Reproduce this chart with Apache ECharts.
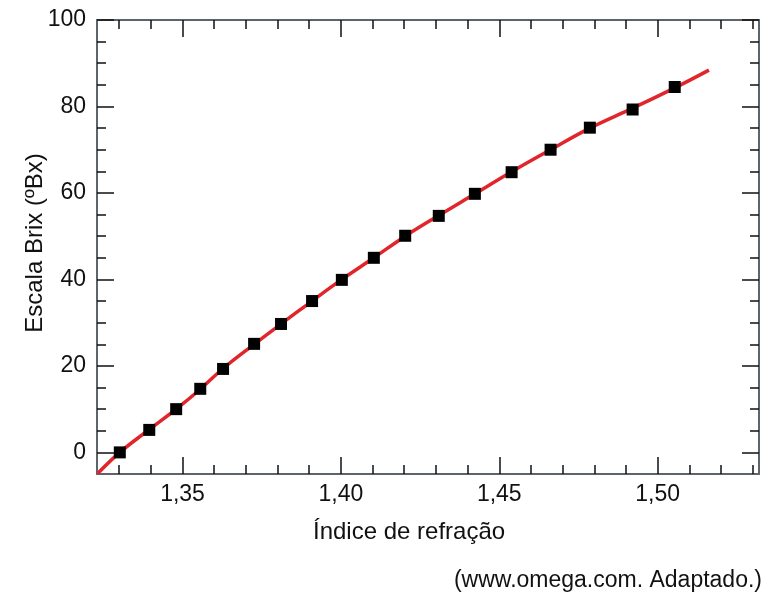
<!DOCTYPE html>
<html lang="pt">
<head>
    <meta charset="UTF-8">
    <title>Escala Brix x Índice de refração</title>
    <script src="https://cdn.jsdelivr.net/npm/echarts@6.0.0/dist/echarts.min.js"></script>
    <style>
        html, body {
            margin: 0;
            padding: 0;
            background: #fff;
        }
        #chart {
            width: 782px;
            height: 600px;
        }
    </style>
</head>
<body>
<div id="chart"></div>
<script>
    // pontos medidos (quadrados pretos)
    var pointX = [1.3302, 1.3395, 1.3480, 1.3556, 1.3628, 1.3726, 1.3811, 1.3909, 1.4003,
        1.4104, 1.4203, 1.4309, 1.4423, 1.4539, 1.4662, 1.4786, 1.4921, 1.5054];
    var pointY = [0, 5.2, 10.0, 14.7, 19.3, 25.1, 29.7, 35.0, 39.9,
        45.0, 50.1, 54.7, 59.8, 64.8, 70.0, 75.1, 79.3, 84.5];

    // curva ajustada (linha vermelha)
    var curveX = [1.3232, 1.3302, 1.3395, 1.3480, 1.3556, 1.3628, 1.3726, 1.3811, 1.3909, 1.4003,
        1.4104, 1.4203, 1.4309, 1.4423, 1.4539, 1.4662, 1.4786, 1.4921, 1.5054, 1.5162];
    var curveY = [-4.9, 0, 5.3, 10.0, 14.6, 19.4, 25.0, 29.7, 35.0, 40.0,
        45.0, 50.0, 54.8, 59.8, 64.9, 70.0, 75.0, 79.6, 84.3, 88.4];

    // marcas dos eixos
    var xMajor = [1.35, 1.40, 1.45, 1.50];
    var xMinor = [1.33, 1.34, 1.36, 1.37, 1.38, 1.39, 1.41, 1.42, 1.43, 1.44,
        1.46, 1.47, 1.48, 1.49, 1.51, 1.52, 1.53];
    var yMajor = [0, 20, 40, 60, 80, 100];
    var yMinor = [5, 10, 15, 25, 30, 35, 45, 50, 55, 65, 70, 75, 85, 90, 95];

    var xMin = 1.323, xMax = 1.532;
    var yMin = -5, yMax = 100;

    var FONT = 'Liberation Sans, Arial, sans-serif';
    var lineColor = '#5c646c';

    var points = [];
    for (var i = 0; i < pointX.length; i++) {
        points.push([pointX[i], pointY[i]]);
    }
    var curve = [];
    for (var j = 0; j < curveX.length; j++) {
        curve.push([curveX[j], curveY[j]]);
    }

    function tickAxis(dir, pos, values, len, withLine, withLabel) {
        var ax = {
            type: 'value',
            position: pos,
            min: dir === 'x' ? xMin : yMin,
            max: dir === 'x' ? xMax : yMax,
            splitLine: {show: false},
            axisLine: {show: withLine, onZero: false, lineStyle: {color: lineColor, width: 2}},
            axisTick: {
                show: true,
                inside: true,
                length: len,
                customValues: values,
                lineStyle: {color: '#111', width: 1.5}
            },
            axisLabel: {show: false}
        };
        if (withLabel) {
            ax.axisLabel = {
                show: true,
                customValues: values,
                fontFamily: FONT,
                fontSize: 23,
                color: '#111',
                margin: dir === 'x' ? 9 : 11,
                formatter: dir === 'x'
                    ? function (v) { return v.toFixed(2).replace('.', ','); }
                    : function (v) { return String(v); }
            };
        }
        return ax;
    }

    var xAxes = [
        tickAxis('x', 'bottom', xMajor, 17, true, true),
        tickAxis('x', 'bottom', xMinor, 9, false, false),
        tickAxis('x', 'top', xMajor, 17, true, false),
        tickAxis('x', 'top', xMinor, 9, false, false)
    ];
    var yAxes = [
        tickAxis('y', 'left', yMajor, 17, true, true),
        tickAxis('y', 'left', yMinor, 9, false, false),
        tickAxis('y', 'right', yMajor, 17, true, false),
        tickAxis('y', 'right', yMinor, 9, false, false)
    ];

    var myChart = echarts.init(document.getElementById('chart'));
    myChart.setOption({
        animation: false,
        backgroundColor: '#fff',
        title: [
            {
                text: 'Índice de refração',
                left: 308,
                top: 515,
                textStyle: {fontFamily: FONT, fontSize: 24, fontWeight: 'normal', color: '#111'}
            },
            {
                text: '(www.omega.com. Adaptado.)',
                right: 15,
                top: 564,
                textStyle: {fontFamily: FONT, fontSize: 23, fontWeight: 'normal', color: '#111'}
            }
        ],
        graphic: [
            {
                // título do eixo vertical
                type: 'text',
                x: 35,
                y: 243,
                rotation: Math.PI / 2,
                style: {
                    text: 'Escala Brix (ºBx)',
                    fontFamily: FONT,
                    fontSize: 24,
                    fill: '#111',
                    align: 'center',
                    verticalAlign: 'middle'
                }
            }
        ],
        grid: {left: 97, right: 23, top: 20, bottom: 126, containLabel: false},
        xAxis: xAxes,
        yAxis: yAxes,
        series: [
            {
                name: 'ajuste',
                type: 'line',
                data: curve,
                smooth: 0.4,
                showSymbol: false,
                clip: true,
                lineStyle: {color: '#e1262b', width: 3.5},
                z: 2
            },
            {
                name: 'medidas',
                type: 'scatter',
                data: points,
                symbol: 'rect',
                symbolSize: 12,
                itemStyle: {color: '#000', opacity: 1},
                z: 3
            }
        ]
    });
</script>
</body>
</html>
